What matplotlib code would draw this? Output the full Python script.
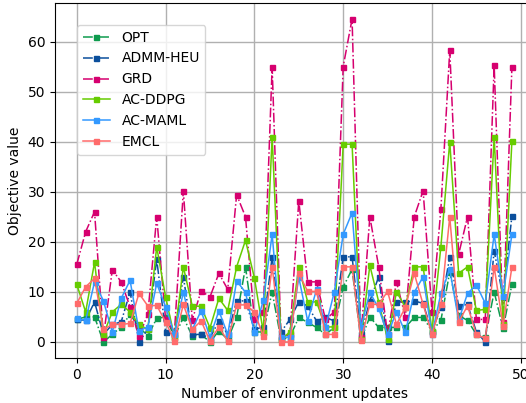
import matplotlib
matplotlib.use('Agg')
import matplotlib.pyplot as plt

updates = list(range(50))

opt = [4.5, 5, 5, 0, 1.5, 3, 5.5, 3, 1.2, 4.7,
       5, 1, 4.9, 1.2, 1.5, 0, 2.2, 0.5, 4.9, 15,
       2, 2, 10, 0.5, 1, 4.9, 3.9, 2.9, 1.5, 2.9,
       11, 14.5, 0.5, 5, 2.9, 2.9, 2.9, 2.9, 4.9, 4.9,
       2.2, 4.3, 14, 5.3, 4.3, 1.5, 1, 10, 2.7, 11.5]
admm = [4.5, 4.3, 8, 1.5, 3.5, 4, 10, 0, 2.5, 16.5,
        2, 1.5, 13, 1.5, 1.5, 0.8, 4.2, 1.5, 8.2, 8.2,
        2.5, 3, 17, 2, 4.5, 8, 7.2, 4.2, 4.9, 4.2,
        17, 17, 1.5, 8.2, 13, 0.2, 8, 8, 8.2, 7.7,
        2, 7, 17, 7.2, 7.5, 2, 0, 18.2, 9, 25.2]
grd = [15.5, 22, 26, 1, 14.4, 12, 7, 1.2, 5.5, 25,
       4.5, 2, 30.2, 4.4, 10.2, 9, 13.7, 10.5, 29.4, 25,
       4.5, 6, 55, 1, 1.5, 28.2, 12, 12, 4.5, 6,
       55, 64.5, 1, 25, 15, 1.5, 12, 5, 25, 30.2,
       6, 26.5, 58.3, 17.5, 25, 4.5, 4.5, 55.3, 4, 55]
ddpg = [11.5, 6, 15.9, 1.5, 6, 7.5, 6, 3.5, 2.5, 19,
        9, 1, 15, 7.2, 7.1, 2.8, 8.7, 6.3, 15, 20.3,
        12.8, 2, 41, 0.5, 2, 15, 8, 8, 3, 3,
        39.5, 39.5, 0.5, 15.3, 8, 0.5, 10, 7, 15, 15,
        2.2, 19, 40, 13.7, 15, 6.3, 6.5, 41, 3.5, 40.2]
maml = [4.7, 4.3, 12, 8.2, 2, 8.7, 12.3, 2.2, 3, 11.7,
        7, 1.5, 10, 2.5, 6.2, 1, 6.2, 1.5, 12.2, 9.9,
        1.9, 8.3, 21.5, 0.9, 1, 12.9, 4.2, 10.5, 2.9, 10,
        21.5, 25.8, 2.9, 9.9, 6.7, 1.5, 6, 1.9, 9.9, 13,
        1.5, 9.7, 14.5, 4.3, 9.7, 11.4, 7.7, 21.5, 9.2, 21.5]
emcl = [7.7, 11, 12.7, 2.5, 3.5, 3.5, 3.7, 9.7, 7.2, 7.3,
        4, 0.2, 7.5, 2.5, 4.2, 0.2, 3, 0.2, 7.4, 7.4,
        6, 1.2, 15, 0, 0, 13.7, 10.1, 10.1, 1.5, 1.5,
        15, 15, 0.3, 7.5, 7.5, 10.1, 3.5, 6.9, 13.7, 7.5,
        1.5, 7.5, 25, 4, 7.2, 1.5, 0.7, 15, 3.2, 15]

series = [
    ('OPT', opt, '#0e9b4e', '-.'),
    ('ADMM-HEU', admm, '#0b4f9c', '-.'),
    ('GRD', grd, '#d6006f', '-.'),
    ('AC-DDPG', ddpg, '#66cc00', '-'),
    ('AC-MAML', maml, '#3399ff', '-'),
    ('EMCL', emcl, '#ff6b6b', '-'),
]

fig = plt.figure(figsize=(5.26, 4.03), dpi=100)
# right edge of the axes sits just outside the figure, as in the reference crop
ax = fig.add_axes([0.1046, 0.1117, 0.91, 0.881])

for name, vals, col, ls in series:
    ax.plot(updates, vals, color=col, linestyle=ls, marker='s',
            markersize=3.6, linewidth=1.1, label=name)

ax.set_xlim(-2.45, 51.45)
ax.set_ylim(-3.2, 67.7)
ax.set_xticks([0, 10, 20, 30, 40, 50])
ax.set_yticks([0, 10, 20, 30, 40, 50, 60])
ax.grid(True, color='#b0b0b0', linewidth=1)
ax.set_axisbelow(True)
ax.set_xlabel('Number of environment updates')
ax.set_ylabel('Objective value')
ax.legend(loc='upper left', bbox_to_anchor=(0.046, 0.938), borderaxespad=0)

fig.savefig('out.png', dpi=100)
